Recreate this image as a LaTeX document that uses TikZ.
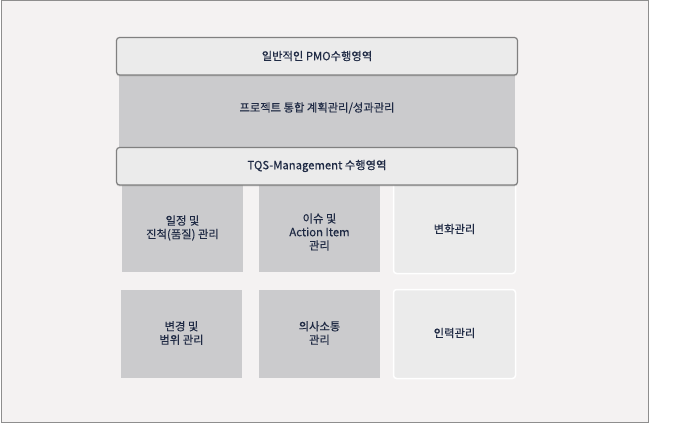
\documentclass[tikz,border=0pt]{standalone}
\usepackage{fontspec}
\setmainfont[UprightFeatures={FakeBold=0.35}]{Noto Sans CJK KR}
\usetikzlibrary{shadows}
\definecolor{frame}{HTML}{F4F2F2}
\definecolor{framebd}{HTML}{8E8E8E}
\definecolor{barfill}{HTML}{EBEBEB}
\definecolor{barbd}{HTML}{808080}
\definecolor{darkbox}{HTML}{CBCBCD}
\definecolor{txt}{HTML}{1F2A44}
\tikzset{
  bar/.style={draw=barbd, line width=1.2pt, fill=barfill, rounded corners=3pt,
    drop shadow={shadow xshift=0pt, shadow yshift=-1.5pt, opacity=0.3}},
  lightcell/.style={fill=barfill, draw=white, line width=1.5pt, rounded corners=3pt},
  lbl/.style={text=txt, font=\fontsize{11.3}{13.5}\selectfont, align=center}
}
\begin{document}
\begin{tikzpicture}[x=1pt,y=-1pt]
\useasboundingbox (0,0) rectangle (694,425);
\fill[white] (0,0) rectangle (694,425);
\draw[fill=frame, draw=framebd, line width=1pt] (1,1) rectangle (648,422);
% gray main block
\fill[darkbox] (119,70) rectangle (515,150);
\node[lbl] (mtext) at (317,108) {프로젝트 통합 계획관리/성과관리};
% row 1
\fill[darkbox] (122,180) rectangle (243,272);
\node[lbl] (c11) at (182.5,228) {일정 및\\진척(품질) 관리};
\fill[darkbox] (259,180) rectangle (380,272);
\node[lbl] (c12) at (319.5,232) {이슈 및\\Action Item\\관리};
\draw[lightcell] (393.5,178) rectangle (515.5,273.5);
\node[lbl] (c13) at (454.5,229) {변화관리};
% row 2
\fill[darkbox] (121,290) rectangle (242,378);
\node[lbl] (c21) at (181.5,333) {변경 및\\범위 관리};
\fill[darkbox] (259,290) rectangle (380,378);
\node[lbl] (c22) at (319.5,333) {의사소통\\관리};
\draw[lightcell] (393.5,289.5) rectangle (515.5,378.5);
\node[lbl] (c23) at (454.5,333) {인력관리};
% bars
\draw[bar] (116.5,37.5) rectangle (517.5,75);
\node[lbl] (top) at (317,56) {일반적인 PMO수행영역};
\draw[bar] (116.5,147.5) rectangle (517.5,185);
\node[lbl] (tqs) at (317,166) {TQS-Management 수행영역};
\end{tikzpicture}
\end{document}
